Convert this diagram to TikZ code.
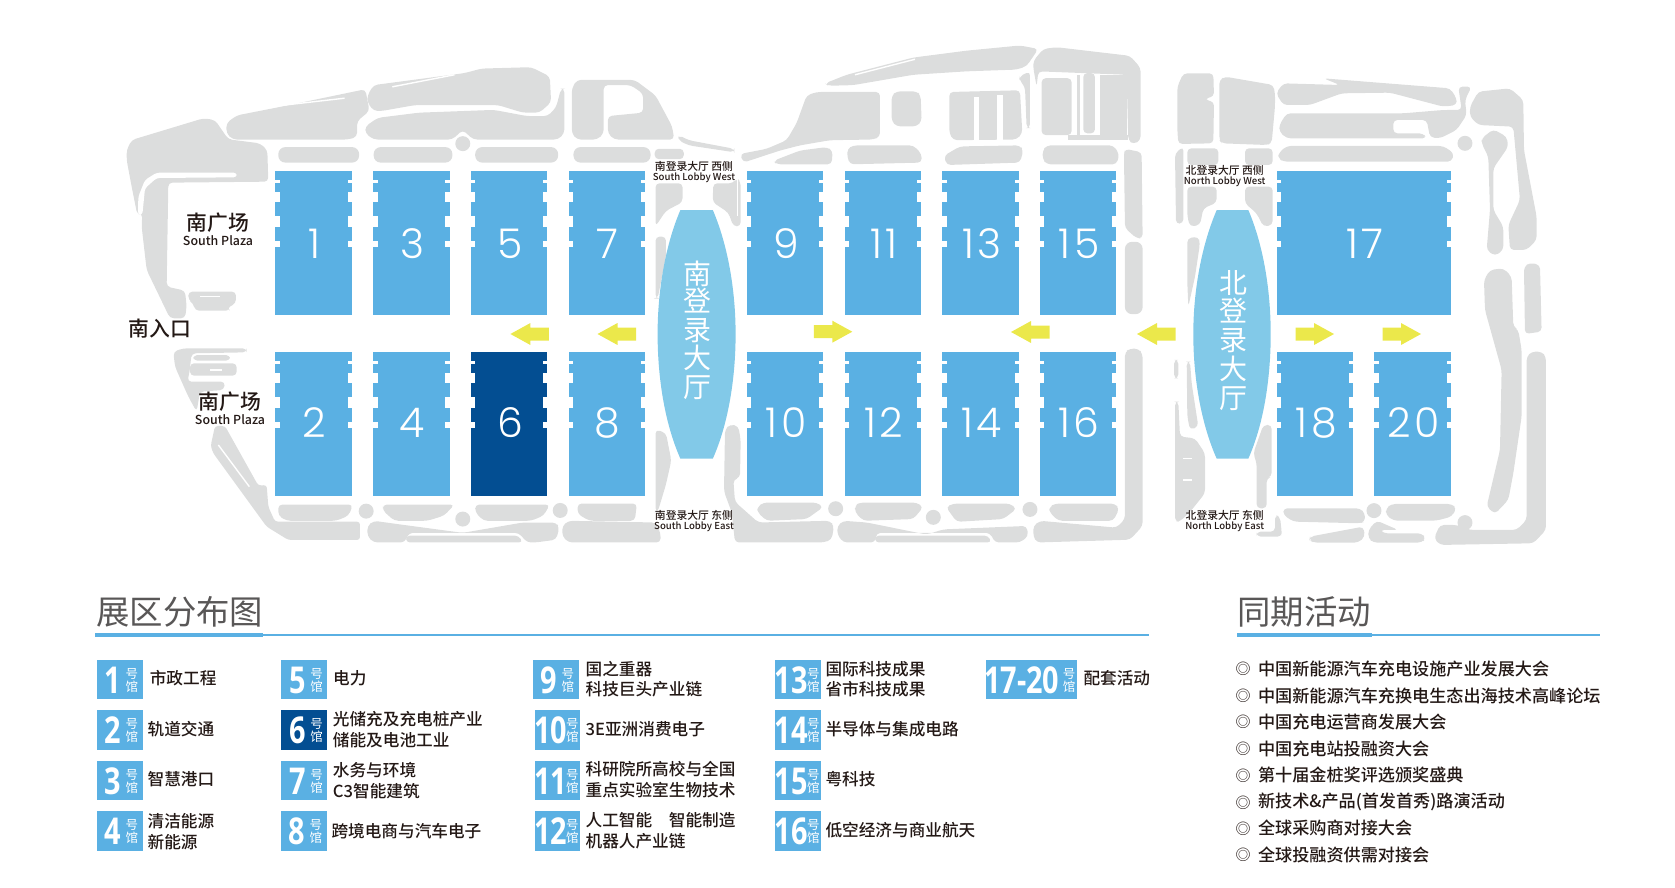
\documentclass[tikz,border=0pt]{standalone}
\usepackage{fontspec}
\setmainfont{Open Sans}
\newfontfamily\cjk{Noto Sans CJK SC}
\newfontfamily\cjkmid{Noto Sans CJK SC Medium}
\newfontfamily\numfont[LetterSpace=8]{Poppins Light}
\usetikzlibrary{calc}
\definecolor{hallblue}{HTML}{5AB0E3}
\definecolor{halldark}{HTML}{034E92}
\definecolor{lobbyblue}{HTML}{82C9E8}
\definecolor{roadgray}{HTML}{DCDDDD}
\definecolor{arrowyellow}{HTML}{EBE84B}
\definecolor{inkdark}{HTML}{231815}
\definecolor{titlegray}{HTML}{595757}
\tikzset{
	block/.style={fill=roadgray, rounded corners=4pt},
	slit/.style={draw=white, line width=1.4pt},
	legendtext/.style={anchor=west, inner sep=0pt, text=inkdark, font=\cjkmid\fontsize{16.65}{18}\selectfont},
	listtext/.style={anchor=west, inner sep=0pt, text=inkdark, font=\cjkmid\fontsize{17.13}{19}\selectfont},
	ringmark/.style={inner sep=0pt, text=inkdark, font=\cjk\fontsize{15}{17}\selectfont},
	headtext/.style={anchor=west, inner sep=0pt, text=titlegray, font=\cjk\fontsize{33.4}{35}\selectfont},
	plazatext/.style={inner sep=0pt, text=inkdark, font=\cjkmid\fontsize{20.8}{22}\selectfont},
	plazaeng/.style={inner sep=0pt, text=inkdark, font=\cjkmid\fontsize{12.4}{14}\selectfont},
	lobbytext/.style={inner sep=0pt, text=inkdark, font=\cjkmid\fontsize{10.8}{12}\selectfont},
	lobbyeng/.style={inner sep=0pt, text=inkdark, font=\cjkmid\fontsize{9.6}{11}\selectfont},
	lobbychar/.style={inner sep=0pt, text=white, font=\cjk\fontsize{28}{30}\selectfont},
	hallnum/.style={inner sep=0pt, text=white, font=\numfont\fontsize{41}{43}\selectfont},
	badgenum/.style={inner sep=0pt, text=white, xscale=.78, font=\fontsize{37}{39}\selectfont\bfseries},
	badgechar/.style={inner sep=0pt, text=white, font=\cjk\fontsize{12.5}{14}\selectfont},
}
% hall: left, right, top, height, number offset, colour, label
\def\hallbox(#1,#2,#3,#4,#5)[#6]#7{
	\fill[#6] (#1,#3) rectangle (#2,#3+#4);
	\foreach \a/\b in {9.3/12, 20.5/30.8, 45/55.7, 70.2/76.4}{
		\fill[white] (#1,#3+\a) rectangle (#1+4.4,#3+\b);
		\fill[white] (#2-4.4,#3+\a) rectangle (#2,#3+\b);
	}
	\node[hallnum] (hall#7) at ({(#1+#2)/2+1},#3+#5) {#7};
}
% badge: left, right, top, bottom, number offset, char offset, colour, label
\def\badge(#1,#2,#3,#4,#5,#6)[#7]#8{
	\fill[#7] (#1,#3) rectangle (#2,#4);
	\node[badgenum] (badge#8) at (#1+#5,#3+20) {#8};
	\node[badgechar] (hao#8) at (#2-#6,#3+14) {号};
	\node[badgechar] (guan#8) at (#2-#6,#3+26.5) {馆};
}
% arrow: tip x, tip y, direction (1 left, -1 right)
\def\yarrow(#1,#2,#3){
	\fill[arrowyellow,shift={(#1,#2)},xscale=#3] (0,0) -- (20,-11) -- (20,-6.5) -- (38.5,-6.5) -- (38.5,6.5) -- (20,6.5) -- (20,11) -- cycle;
}
% lobby: left, flat left, flat right, right
\def\lobby(#1,#2,#3,#4){
	\fill[lobbyblue] (#2,210) .. controls (#2-15,245) and (#1,290) .. (#1,334) .. controls (#1,380) and (#2-15,425) .. (#2,458.7) -- (#3,458.7) .. controls (#3+15,425) and (#4,380) .. (#4,334) .. controls (#4,290) and (#3+15,245) .. (#3,210) -- cycle;
}

\begin{document}
\begin{tikzpicture}[x=1pt,y=-1pt]
	\useasboundingbox (0,0) rectangle (1675,888);
	%%%%% SOUTH PLAZA EDGES %%%%%
	\begin{scope}[shift={(110,100)},x=.3333pt,y=-.3333pt]
		\fill[block] (50,150) -- (65,120) -- (280,55) -- (315,60) -- (355,118) -- (450,130) -- (472,150) -- (475,245) -- (175,248) -- (170,560) -- (225,572) -- (230,620) -- (225,655) -- (180,655) -- (110,510) -- (95,380) -- (97,340) -- (82,345) -- (65,260) -- (50,180) -- cycle;
		\fill[white,rounded corners=3pt] (380,218) -- (140,218) -- (105,240) -- (85,290) -- (84,345) -- (97,345) -- (105,265) -- (140,234) -- (380,232) -- cycle;
		\fill[block] (235,575) -- (378,575) -- (378,610) -- (350,625) -- (360,632) -- (255,632) -- (250,610) -- (235,600) -- cycle;
		\draw[slit] (270,590) -- (330,590);
	\end{scope}
	\begin{scope}[shift={(150,340)},x=.3333pt,y=-.3333pt]
		\fill[block] (70,35) -- (100,25) -- (290,25) -- (290,37) -- (125,40) -- (118,100) -- (112,125) -- (225,125) -- (222,150) -- (150,155) -- (140,215) -- (115,170) -- (75,80) -- cycle;
		\fill[block] (130,45) -- (240,45) -- (240,62) -- (130,62) -- cycle;
		\fill[block] (120,70) -- (260,70) -- (260,107) -- (120,107) -- cycle;
		\draw[slit] (180,90) -- (215,90);
		\fill[rounded corners=3pt,roadgray] (195,258) -- (225,258) -- (325,437) -- (350,435) -- (355,500) -- (375,545) -- (630,545) -- (630,600) -- (415,600) -- (350,560) -- (190,340) -- (182,318) -- cycle;
		\draw[slit] (205,315) -- (298,440);
	\end{scope}
	%%%%% ROADS LEFT %%%%%
	\begin{scope}[shift={(100,30)},x=.4146pt,y=-.3444pt]
		\fill[block] (305,270) -- (330,248) -- (440,222) -- (640,172) -- (650,235) -- (620,265) -- (620,310) -- (600,318) -- (320,318) -- (305,300) -- cycle;
		\draw[slit] (445,218) -- (590,198);
		\fill[block] (645,190) -- (660,160) -- (880,125) -- (920,112) -- (1040,108) -- (1085,135) -- (1088,210) -- (1060,240) -- (1020,240) -- (960,218) -- (760,218) -- (680,235) -- (660,235) -- (645,210) -- cycle;
		\draw[slit] (705,165) -- (855,130);
		\fill[block] (640,280) -- (670,255) -- (770,240) -- (950,232) -- (1030,250) -- (1080,250) -- (1100,225) -- (1112,170) -- (1120,170) -- (1120,300) -- (1105,318) -- (900,318) -- (875,290) -- (850,318) -- (660,318) -- (640,300) -- cycle;
		\fill[block] (1138,170) -- (1150,145) -- (1290,145) -- (1340,190) -- (1380,280) -- (1385,318) -- (1240,318) -- (1225,300) -- (1225,250) -- (1310,240) -- (1310,185) -- (1280,160) -- (1215,160) -- (1215,300) -- (1200,318) -- (1150,318) -- (1138,300) -- cycle;
		\fill[roadgray] (875,330) circle (7.5pt);
		\fill[block,rounded corners=7pt] (430,340) -- (625,340) -- (625,385) -- (430,385) -- cycle;
		\fill[block,rounded corners=7pt] (660,340) -- (850,340) -- (850,385) -- (660,385) -- cycle;
		\fill[block,rounded corners=7pt] (905,340) -- (1105,340) -- (1105,385) -- (905,385) -- cycle;
		\fill[block,rounded corners=7pt] (1142,340) -- (1328,340) -- (1328,385) -- (1142,385) -- cycle;
		\fill[block] (1338,345) -- (1408,345) -- (1408,375) -- (1338,375) -- cycle;
		\fill[block] (1340,445) -- (1405,445) -- (1405,500) -- (1365,525) -- (1340,570) -- cycle;
		\fill[block] (1395,305) -- (1420,320) -- (1530,345) -- (1530,355) -- (1420,335) -- (1395,320) -- cycle;
		\fill[block] (1340,600) -- (1365,600) -- (1365,660) -- (1345,780) -- (1340,780) -- cycle;
		\fill[block] (1340,1160) -- (1365,1170) -- (1378,1250) -- (1365,1320) -- (1345,1400) -- (1340,1400) -- cycle;
		% lower row
		\fill[block] (430,1378) -- (610,1378) -- (600,1410) -- (570,1425) -- (450,1425) -- (430,1410) -- cycle;
		\fill[roadgray] (642,1397) circle (7.5pt);
		\fill[block] (682,1378) -- (855,1378) -- (830,1410) -- (790,1425) -- (710,1425) -- (682,1395) -- cycle;
		\fill[roadgray] (875,1420) circle (7.5pt);
		\fill[block] (905,1378) -- (1085,1378) -- (1070,1410) -- (1040,1425) -- (925,1425) -- (905,1400) -- cycle;
		\fill[roadgray] (1110,1395) circle (7.5pt);
		\fill[block] (1152,1375) -- (1295,1375) -- (1290,1425) -- (1180,1425) -- (1152,1405) -- cycle;
		\fill[block] (645,1440) -- (660,1425) -- (720,1435) -- (875,1460) -- (1020,1430) -- (1100,1430) -- (1108,1445) -- (1100,1480) -- (1050,1488) -- (1030,1488) -- (1010,1460) -- (745,1460) -- (735,1488) -- (660,1488) -- (645,1470) -- cycle;
		\fill[block] (738,1468) -- (1010,1468) -- (1020,1488) -- (738,1488) -- cycle;
		\fill[block] (1115,1440) -- (1130,1425) -- (1340,1430) -- (1352,1460) -- (1352,1488) -- (1130,1488) -- (1115,1470) -- cycle;
	\end{scope}
	%%%%% ROADS MIDDLE %%%%%
	\begin{scope}[shift={(700,30)},x=.3333pt,y=-.3444pt]
		\fill[block] (40,445) -- (100,445) -- (110,430) -- (122,440) -- (122,570) -- (100,570) -- (85,530) -- (38,500) -- cycle;
		\draw[slit] (112,430) -- (112,540);
		\fill[block] (120,360) -- (200,345) -- (260,320) -- (290,270) -- (320,190) -- (350,180) -- (540,180) -- (540,310) -- (520,318) -- (390,320) -- (300,335) -- (240,350) -- (130,385) -- cycle;
		\fill[block] (220,380) -- (300,350) -- (380,340) -- (398,350) -- (395,390) -- (230,390) -- cycle;
		\fill[block] (575,190) -- (590,178) -- (650,178) -- (662,190) -- (665,265) -- (650,280) -- (590,280) -- (575,265) -- cycle;
		\fill[block] (375,155) -- (440,130) -- (640,80) -- (800,60) -- (960,45) -- (1015,55) -- (980,105) -- (950,115) -- (800,120) -- (640,130) -- (460,160) -- (385,162) -- cycle;
		\draw[slit] (465,130) -- (645,85);
		\fill[block] (748,180) -- (960,175) -- (967,300) -- (950,318) -- (760,320) -- (748,300) -- cycle;
		\fill[white] (822,195) rectangle (838,325);
		\fill[white] (890,190) rectangle (910,325);
		\fill[block] (958,135) -- (990,120) -- (990,285) -- (980,285) -- (975,165) -- (958,145) -- cycle;
		\fill[block] (1000,90) -- (1030,55) -- (1070,50) -- (1290,75) -- (1322,110) -- (1322,320) -- (1300,332) -- (1285,320) -- (1280,130) -- (1015,120) -- (1010,165) -- (1000,110) -- cycle;
		\fill[block] (1025,140) -- (1115,140) -- (1115,305) -- (1025,305) -- cycle;
		\fill[roadgray] (1130,130) rectangle (1140,305);
		\fill[block] (1150,125) -- (1185,125) -- (1185,300) -- (1150,300) -- cycle;
		\fill[roadgray] (1200,130) rectangle (1280,318);
		\fill[roadgray] (1105,305) rectangle (1285,320);
		\fill[block] (1275,345) -- (1325,355) -- (1328,605) -- (1310,605) -- (1275,575) -- (1272,360) -- cycle;
		\fill[block,rounded corners=7pt] (1275,615) -- (1328,615) -- (1328,825) -- (1275,825) -- cycle;
		\fill[block] (1275,935) -- (1290,925) -- (1315,925) -- (1328,940) -- (1328,1440) -- (1290,1480) -- (1010,1488) -- (1000,1470) -- (1000,1440) -- (1020,1425) -- (1250,1445) -- (1275,1420) -- cycle;
		\fill[block] (442,345) -- (460,335) -- (640,335) -- (665,360) -- (665,385) -- (450,390) -- (442,370) -- cycle;
		\fill[block] (732,365) -- (780,338) -- (960,335) -- (970,350) -- (960,385) -- (740,392) -- cycle;
		\fill[block] (1028,350) -- (1040,335) -- (1240,335) -- (1258,360) -- (1250,390) -- (1040,390) -- (1028,375) -- cycle;
		\fill[block] (172,1385) -- (190,1372) -- (350,1372) -- (370,1385) -- (320,1420) -- (200,1425) -- (172,1400) -- cycle;
		\fill[roadgray] (407,1390) circle (7.5pt);
		\fill[block] (465,1380) -- (480,1372) -- (650,1372) -- (670,1385) -- (640,1420) -- (490,1425) -- (465,1400) -- cycle;
		\fill[roadgray] (700,1415) circle (7.5pt);
		\fill[block] (738,1385) -- (760,1375) -- (930,1375) -- (950,1390) -- (910,1420) -- (770,1428) -- cycle;
		\fill[roadgray] (990,1392) circle (7.5pt);
		\fill[block] (1048,1385) -- (1065,1375) -- (1245,1375) -- (1258,1390) -- (1240,1425) -- (1075,1425) -- (1048,1400) -- cycle;
		\fill[block] (75,1160) -- (90,1145) -- (115,1150) -- (122,1190) -- (120,1300) -- (100,1305) -- (105,1370) -- (175,1430) -- (390,1425) -- (402,1440) -- (395,1480) -- (370,1488) -- (105,1488) -- (95,1400) -- (72,1340) -- cycle;
		\fill[block] (412,1440) -- (430,1425) -- (500,1430) -- (680,1465) -- (730,1450) -- (980,1440) -- (985,1470) -- (960,1488) -- (885,1488) -- (870,1460) -- (530,1460) -- (525,1488) -- (430,1488) -- (412,1465) -- cycle;
		\fill[block] (525,1468) -- (865,1468) -- (875,1488) -- (525,1488) -- cycle;
	\end{scope}
	%%%%% ROADS RIGHT %%%%%
	\begin{scope}[shift={(1150,50)},x=.3333pt,y=-.3333pt]
		\fill[block] (82,110) -- (100,70) -- (190,70) -- (192,140) -- (165,145) -- (165,150) -- (192,155) -- (190,280) -- (85,282) -- (82,240) -- cycle;
		\fill[block] (208,90) -- (225,80) -- (370,105) -- (375,130) -- (375,170) -- (365,280) -- (350,285) -- (215,280) -- (208,270) -- cycle;
		\fill[block] (75,310) -- (100,290) -- (100,520) -- (78,522) -- cycle;
		\fill[block] (112,295) -- (205,295) -- (205,345) -- (112,345) -- cycle;
		\fill[block] (112,410) -- (200,410) -- (200,458) -- (160,475) -- (150,525) -- (120,530) -- (112,500) -- cycle;
		\fill[block] (285,295) -- (368,295) -- (368,345) -- (285,345) -- cycle;
		\fill[block] (285,410) -- (368,410) -- (368,525) -- (340,530) -- (320,490) -- (285,460) -- cycle;
		\fill[block] (112,565) -- (145,560) -- (150,580) -- (135,680) -- (115,770) -- (112,700) -- cycle;
		\fill[block] (72,930) -- (85,930) -- (85,985) -- (72,985) -- cycle;
		\fill[block] (110,935) -- (120,935) -- (125,1000) -- (145,1130) -- (120,1140) -- (112,1100) -- cycle;
		\fill[block] (75,1055) -- (85,1055) -- (90,1160) -- (135,1165) -- (165,1210) -- (165,1330) -- (125,1380) -- (90,1415) -- (75,1415) -- cycle;
		\draw[slit] (100,1225) -- (125,1225);
		\draw[slit] (100,1290) -- (125,1290);
		\fill[block] (340,1125) -- (365,1125) -- (365,1280) -- (350,1285) -- (350,1375) -- (320,1375) -- (320,1240) -- (310,1210) -- cycle;
		\fill[block] (400,1375) -- (630,1375) -- (645,1390) -- (645,1415) -- (630,1420) -- (430,1415) -- (400,1395) -- cycle;
		\fill[block] (320,1445) -- (375,1445) -- (375,1395) -- (390,1400) -- (395,1445) -- (395,1460) -- (320,1460) -- cycle;
		\fill[block] (480,1460) -- (640,1430) -- (645,1460) -- (625,1478) -- (490,1478) -- (478,1470) -- cycle;
		\fill[roadgray] (672,1382) circle (7.5pt);
		\fill[block] (708,1375) -- (725,1362) -- (905,1362) -- (920,1375) -- (905,1400) -- (860,1412) -- (730,1412) -- (708,1395) -- cycle;
		\fill[block] (655,1440) -- (680,1412) -- (745,1440) -- (690,1440) -- (700,1450) -- (815,1450) -- (828,1465) -- (815,1478) -- (670,1478) -- (655,1465) -- cycle;
		\fill[block] (1130,920) -- (1145,905) -- (1175,905) -- (1188,920) -- (1188,1440) -- (1150,1480) -- (870,1485) -- (852,1465) -- (870,1425) -- (920,1425) -- (960,1440) -- (1100,1440) -- (1130,1410) -- cycle;
		\fill[roadgray] (945,1418) circle (7.5pt);
		\fill[block] (1122,650) -- (1140,638) -- (1170,645) -- (1175,845) -- (1125,852) -- cycle;
		\fill[block] (1002,690) -- (1020,660) -- (1060,655) -- (1085,680) -- (1090,830) -- (1105,840) -- (1115,900) -- (1115,1100) -- (1090,1270) -- (1075,1350) -- (1035,1392) -- (1010,1370) -- (1050,1200) -- (1055,960) -- (1005,780) -- cycle;
		\fill[block] (960,170) -- (985,125) -- (1080,115) -- (1120,150) -- (1122,300) -- (1160,500) -- (1160,570) -- (1130,600) -- (1080,600) -- (1075,525) -- (1110,450) -- (1090,230) -- (985,225) -- (960,200) -- cycle;
		\fill[block] (995,265) -- (1030,238) -- (1070,260) -- (1075,290) -- (1030,355) -- (1030,480) -- (1060,530) -- (1060,600) -- (1035,618) -- (1010,600) -- (1020,480) -- (1015,320) -- (995,280) -- cycle;
		\fill[roadgray] (945,280) circle (7.5pt);
		\fill[block] (378,130) -- (400,100) -- (570,105) -- (520,85) -- (900,115) -- (920,145) -- (920,165) -- (880,170) -- (720,128) -- (575,130) -- (480,165) -- (400,165) -- cycle;
		\fill[block] (388,225) -- (410,190) -- (760,190) -- (880,180) -- (935,180) -- (925,110) -- (965,110) -- (945,150) -- (950,195) -- (920,240) -- (870,265) -- (840,262) -- (835,235) -- (830,210) -- (730,210) -- (730,250) -- (820,250) -- (830,265) -- (410,265) -- (388,245) -- cycle;
		\fill[block] (385,310) -- (410,288) -- (880,288) -- (912,310) -- (905,335) -- (400,335) -- (385,325) -- cycle;
	\end{scope}
	%%%%% HALLS %%%%%
	\hallbox(275.4,352,171,144,73)[hallblue]{1}
	\hallbox(373.2,449.5,171,144,73)[hallblue]{3}
	\hallbox(471,547.4,171,144,73)[hallblue]{5}
	\hallbox(568.5,645,171,144,73)[hallblue]{7}
	\hallbox(747,823.3,171,144,73)[hallblue]{9}
	\hallbox(844.7,921,171,144,73)[hallblue]{11}
	\hallbox(942.3,1019,171,144,73)[hallblue]{13}
	\hallbox(1040,1116.3,171,144,73)[hallblue]{15}
	\hallbox(1277,1451,171,144,73)[hallblue]{17}
	\hallbox(275.4,352,352,144,70.6)[hallblue]{2}
	\hallbox(373.2,449.5,352,144,70.6)[hallblue]{4}
	\hallbox(471,547.4,352,144,70.6)[halldark]{6}
	\hallbox(568.5,645,352,144,70.6)[hallblue]{8}
	\hallbox(747,823.3,352,144,70.6)[hallblue]{10}
	\hallbox(844.7,921,352,144,70.6)[hallblue]{12}
	\hallbox(942.3,1019,352,144,70.6)[hallblue]{14}
	\hallbox(1040,1116.3,352,144,70.6)[hallblue]{16}
	\hallbox(1277,1353.3,352,144,70.6)[hallblue]{18}
	\hallbox(1374.3,1451,352,144,70.6)[hallblue]{20}
	%%%%% LOBBIES %%%%%
	\lobby(657.6,680.4,712.8,735.6)
	\lobby(1193.3,1216.7,1248.3,1270.7)
	\node[lobbychar] (southa) at (697.4,273.8) {南};
	\node[lobbychar] (southb) at (697.4,301) {登};
	\node[lobbychar] (southc) at (697.4,330.6) {录};
	\node[lobbychar] (southd) at (697.4,358) {大};
	\node[lobbychar] (southe) at (697.4,387.4) {厅};
	\node[lobbychar] (northa) at (1233,282.7) {北};
	\node[lobbychar] (northb) at (1233,311) {登};
	\node[lobbychar] (northc) at (1233,341) {录};
	\node[lobbychar] (northd) at (1233,369) {大};
	\node[lobbychar] (northe) at (1233,399) {厅};
	%%%%% ARROWS %%%%%
	\yarrow(510.4,334,1)
	\yarrow(597.5,334,1)
	\yarrow(852.3,331.7,-1)
	\yarrow(1011,332,1)
	\yarrow(1137,334,1)
	\yarrow(1334,334,-1)
	\yarrow(1421,334,-1)
	%%%%% LABELS %%%%%
	\node[plazatext] (plazaa) at (218,222.5) {南广场};
	\node[plazaeng] (plazaaeng) at (218,241) {South Plaza};
	\node[plazatext] (plazab) at (230,401.5) {南广场};
	\node[plazaeng] (plazabeng) at (230,420) {South Plaza};
	\node[plazatext] (entry) at (160,328.5) {南入口};
	\node[lobbytext] (sw) at (694,166) {南登录大厅 西侧};
	\node[lobbyeng] (sweng) at (694,178) {South Lobby West};
	\node[lobbytext] (se) at (694,515.5) {南登录大厅 东侧};
	\node[lobbyeng] (seeng) at (694,527) {South Lobby East};
	\node[lobbytext] (nw) at (1224.7,170) {北登录大厅 西侧};
	\node[lobbyeng] (nweng) at (1224.7,181.7) {North Lobby West};
	\node[lobbytext] (ne) at (1224.7,515) {北登录大厅 东侧};
	\node[lobbyeng] (neeng) at (1224.7,527) {North Lobby East};
	%%%%% LEGEND %%%%%
	\node[headtext] (headhalls) at (96,612) {展区分布图};
	\draw[hallblue,line width=1.5pt] (263,635) -- (1149,635);
	\fill[hallblue] (95,632.7) rectangle (263,637.3);
	\node[headtext] (headevents) at (1237,612) {同期活动};
	\draw[hallblue,line width=1.5pt] (1371,635) -- (1600,635);
	\fill[hallblue] (1237,632.7) rectangle (1371.6,637.3);

	\badge(97,142.5,660,699,16,10.7)[hallblue]{1}
	\badge(97,142.5,710,750,16,10.7)[hallblue]{2}
	\badge(97,142.5,761,800,16,10.7)[hallblue]{3}
	\badge(97,142.5,811,850.7,16,10.7)[hallblue]{4}
	\badge(281.3,327.3,660,699,16,10.7)[hallblue]{5}
	\badge(281.3,327.3,710,750,16,10.7)[halldark]{6}
	\badge(281.3,327.3,761,800,16,10.7)[hallblue]{7}
	\badge(281,326.5,811,850.7,16,10.7)[hallblue]{8}
	\badge(533,578.6,660,699,16,10.7)[hallblue]{9}
	\badge(534.5,580,710,750,16,7.6)[hallblue]{10}
	\badge(534.5,580,761,800,16,7.6)[hallblue]{11}
	\badge(534.5,580,811,850.7,16,7.6)[hallblue]{12}
	\badge(775.4,821,660,699,16,7.6)[hallblue]{13}
	\badge(775.4,821,710,750,16,7.6)[hallblue]{14}
	\badge(775.4,821,761,800,16,7.6)[hallblue]{15}
	\badge(775.4,821,811,850.7,16,7.6)[hallblue]{16}
	\badge(985.7,1076.8,660,699,36,7.8)[hallblue]{17-20}

	\node[legendtext] (areaa) at (149.6,678) {市政工程};
	\node[legendtext] (areab) at (147.4,729.5) {轨道交通};
	\node[legendtext] (areac) at (147.4,779.5) {智慧港口};
	\node[legendtext] (aread) at (147.4,820.7) {清洁能源};
	\node[legendtext] (areaaa) at (147.4,841.7) {新能源};
	\node[legendtext] (areae) at (333,678) {电力};
	\node[legendtext] (areaf) at (332.7,719.3) {光储充及充电桩产业};
	\node[legendtext] (areaff) at (332.7,740.3) {储能及电池工业};
	\node[legendtext] (areag) at (332.7,770) {水务与环境};
	\node[legendtext] (areagg) at (332.7,790.7) {C3智能建筑};
	\node[legendtext] (areah) at (331.3,831) {跨境电商与汽车电子};
	\node[legendtext] (areai) at (585.4,669) {国之重器};
	\node[legendtext] (areaii) at (585.4,689) {科技巨头产业链};
	\node[legendtext] (areaj) at (585.4,729) {3E亚洲消费电子};
	\node[legendtext] (areak) at (585.4,769.3) {科研院所高校与全国};
	\node[legendtext] (areakk) at (585.4,790.3) {重点实验室生物技术};
	\node[legendtext] (areal) at (585.4,820) {人工智能\hspace{1em}智能制造};
	\node[legendtext] (areall) at (585.4,841.7) {机器人产业链};
	\node[legendtext] (aream) at (825.3,669) {国际科技成果};
	\node[legendtext] (areamm) at (825.3,689) {省市科技成果};
	\node[legendtext] (arean) at (825.3,729) {半导体与集成电路};
	\node[legendtext] (areao) at (825.3,779) {粤科技};
	\node[legendtext] (areap) at (825.3,830.3) {低空经济与商业航天};
	\node[legendtext] (areaq) at (1083.3,678) {配套活动};
	%%%%% EVENTS %%%%%
	\foreach \n/\y/\t in {1/669/中国新能源汽车充电设施产业发展大会, 2/695.7/中国新能源汽车充换电生态出海技术高峰论坛, 3/722/中国充电运营商发展大会, 4/749/中国充电站投融资大会, 5/775.3/第十届金桩奖评选颁奖盛典, 6/802.3/新技术\&产品(首发首秀)路演活动, 7/828.3/全球采购商对接大会, 8/855/全球投融资供需对接会}{
		\node[ringmark] (ring\n) at (1243,\y) {◎};
		\node[listtext] (event\n) at (1257.8,\y) {\t};
	}
\end{tikzpicture}
\end{document}
